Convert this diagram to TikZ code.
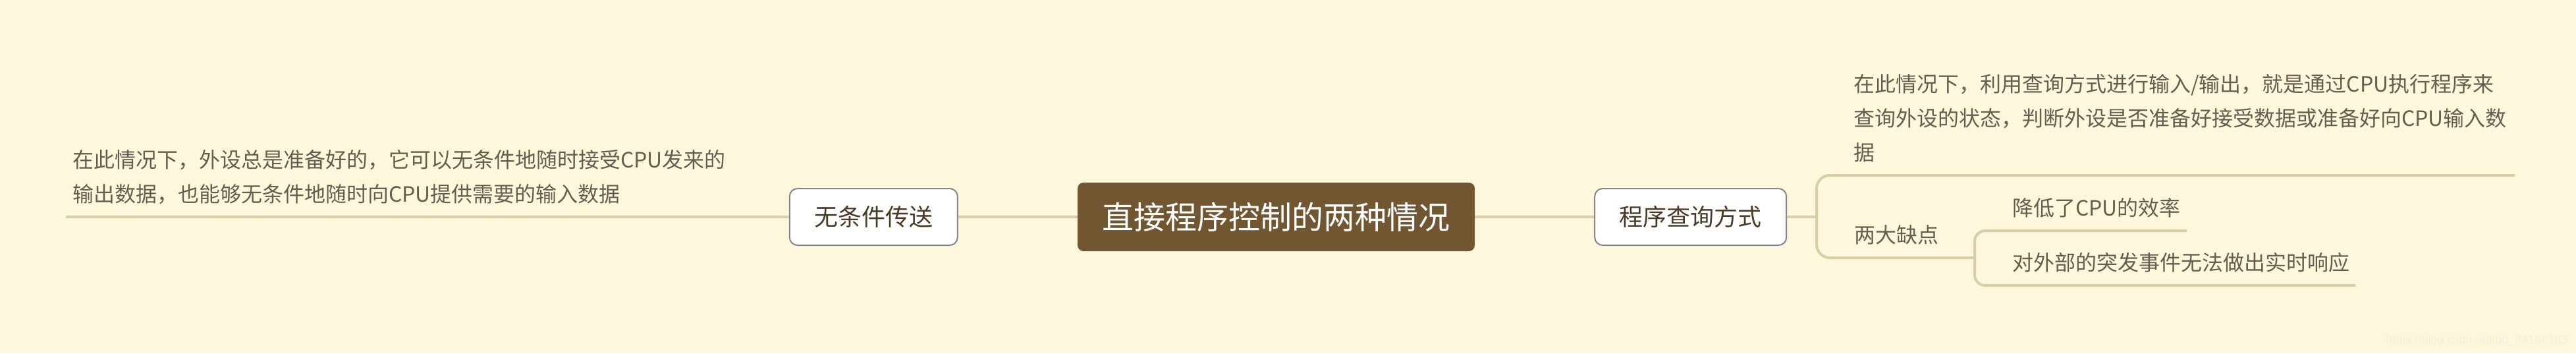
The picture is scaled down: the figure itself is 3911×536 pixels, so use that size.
\documentclass[tikz,border=0pt]{standalone}
\usepackage{fontspec}
\setmainfont{Noto Sans CJK SC}
\newfontfamily\markfont{Liberation Sans}
\usepackage{tikz}
\usetikzlibrary{calc,positioning}
\definecolor{bg}{RGB}{253,248,219}
\definecolor{ln}{RGB}{216,207,168}
\definecolor{edge}{RGB}{133,134,140}
\definecolor{rt}{RGB}{112,87,50}
\definecolor{boxtext}{RGB}{74,58,38}
\definecolor{notetext}{RGB}{104,92,80}
\definecolor{mark}{RGB}{243,239,222}

\begin{document}
\begin{tikzpicture}[
      x=1pt, y=-1pt,
      font=\fontsize{32}{52}\selectfont,
      branch/.style={draw=ln, line width=4pt},
      topic/.style={rounded corners=12pt, draw=edge, line width=2pt, fill=white, text=boxtext, minimum height=86pt, font=\fontsize{36}{44}\selectfont},
      central/.style={rounded corners=9pt, fill=rt, text=white, minimum width=603pt, minimum height=104pt, font=\fontsize{48}{56}\selectfont},
      note/.style={anchor=south west, inner xsep=0pt, inner ysep=6.4pt, align=left, text=notetext},
]

\fill[bg] (0,0) rectangle (3911,536);
\useasboundingbox (0,0) rectangle (3911,536);

\node[central] (root) at (1937.5,329) {直接程序控制的两种情况};
\node[topic, minimum width=255pt, left=181pt of root] (nocond) {无条件传送};
\node[topic, minimum width=291pt, right=181pt of root] (poll) {程序查询方式};

\node[note] (nocondnote) at (110,329) {在此情况下，外设总是准备好的，它可以无条件地随时接受CPU发来的\\输出数据，也能够无条件地随时向CPU提供需要的输入数据\strut};

\node[note] (pollnote) at (2814,266) {在此情况下，利用查询方式进行输入/输出，就是通过CPU执行程序来\\查询外设的状态，判断外设是否准备好接受数据或准备好向CPU输入数\\据\strut};
\node[note] (flaws) at (2815,391) {两大缺点\strut};
\node[note] (flawa) at (3055,350) {降低了CPU的效率\strut};
\node[note] (flawb) at (3055,433) {对外部的突发事件无法做出实时响应\strut};

\coordinate (fork) at (2758,329);
\coordinate (subfork) at (2998,391);

\draw[branch] ($(nocondnote.south west)+(-10,0)$) -- (nocond.west);
\draw[branch] (nocond) -- (root);
\draw[branch] (root) -- (poll);
\draw[branch] (poll.east) -- (fork);
\draw[branch, rounded corners=20pt] ($(pollnote.south east)+(12,0)$) -- (fork |- pollnote.south) -- (fork |- flaws.south) -- (subfork);
\draw[branch, rounded corners=16pt] ($(flawa.south east)+(9,0)$) -- (subfork |- flawa.south) -- (subfork |- flawb.south) -- ($(flawb.south east)+(9,0)$);

\node[anchor=east, text=mark, font=\markfont\fontsize{18}{20}\selectfont] (watermark) at (3902,517) {https://blog.csdn.net/qq\_44185103};

\end{tikzpicture}
\end{document}
